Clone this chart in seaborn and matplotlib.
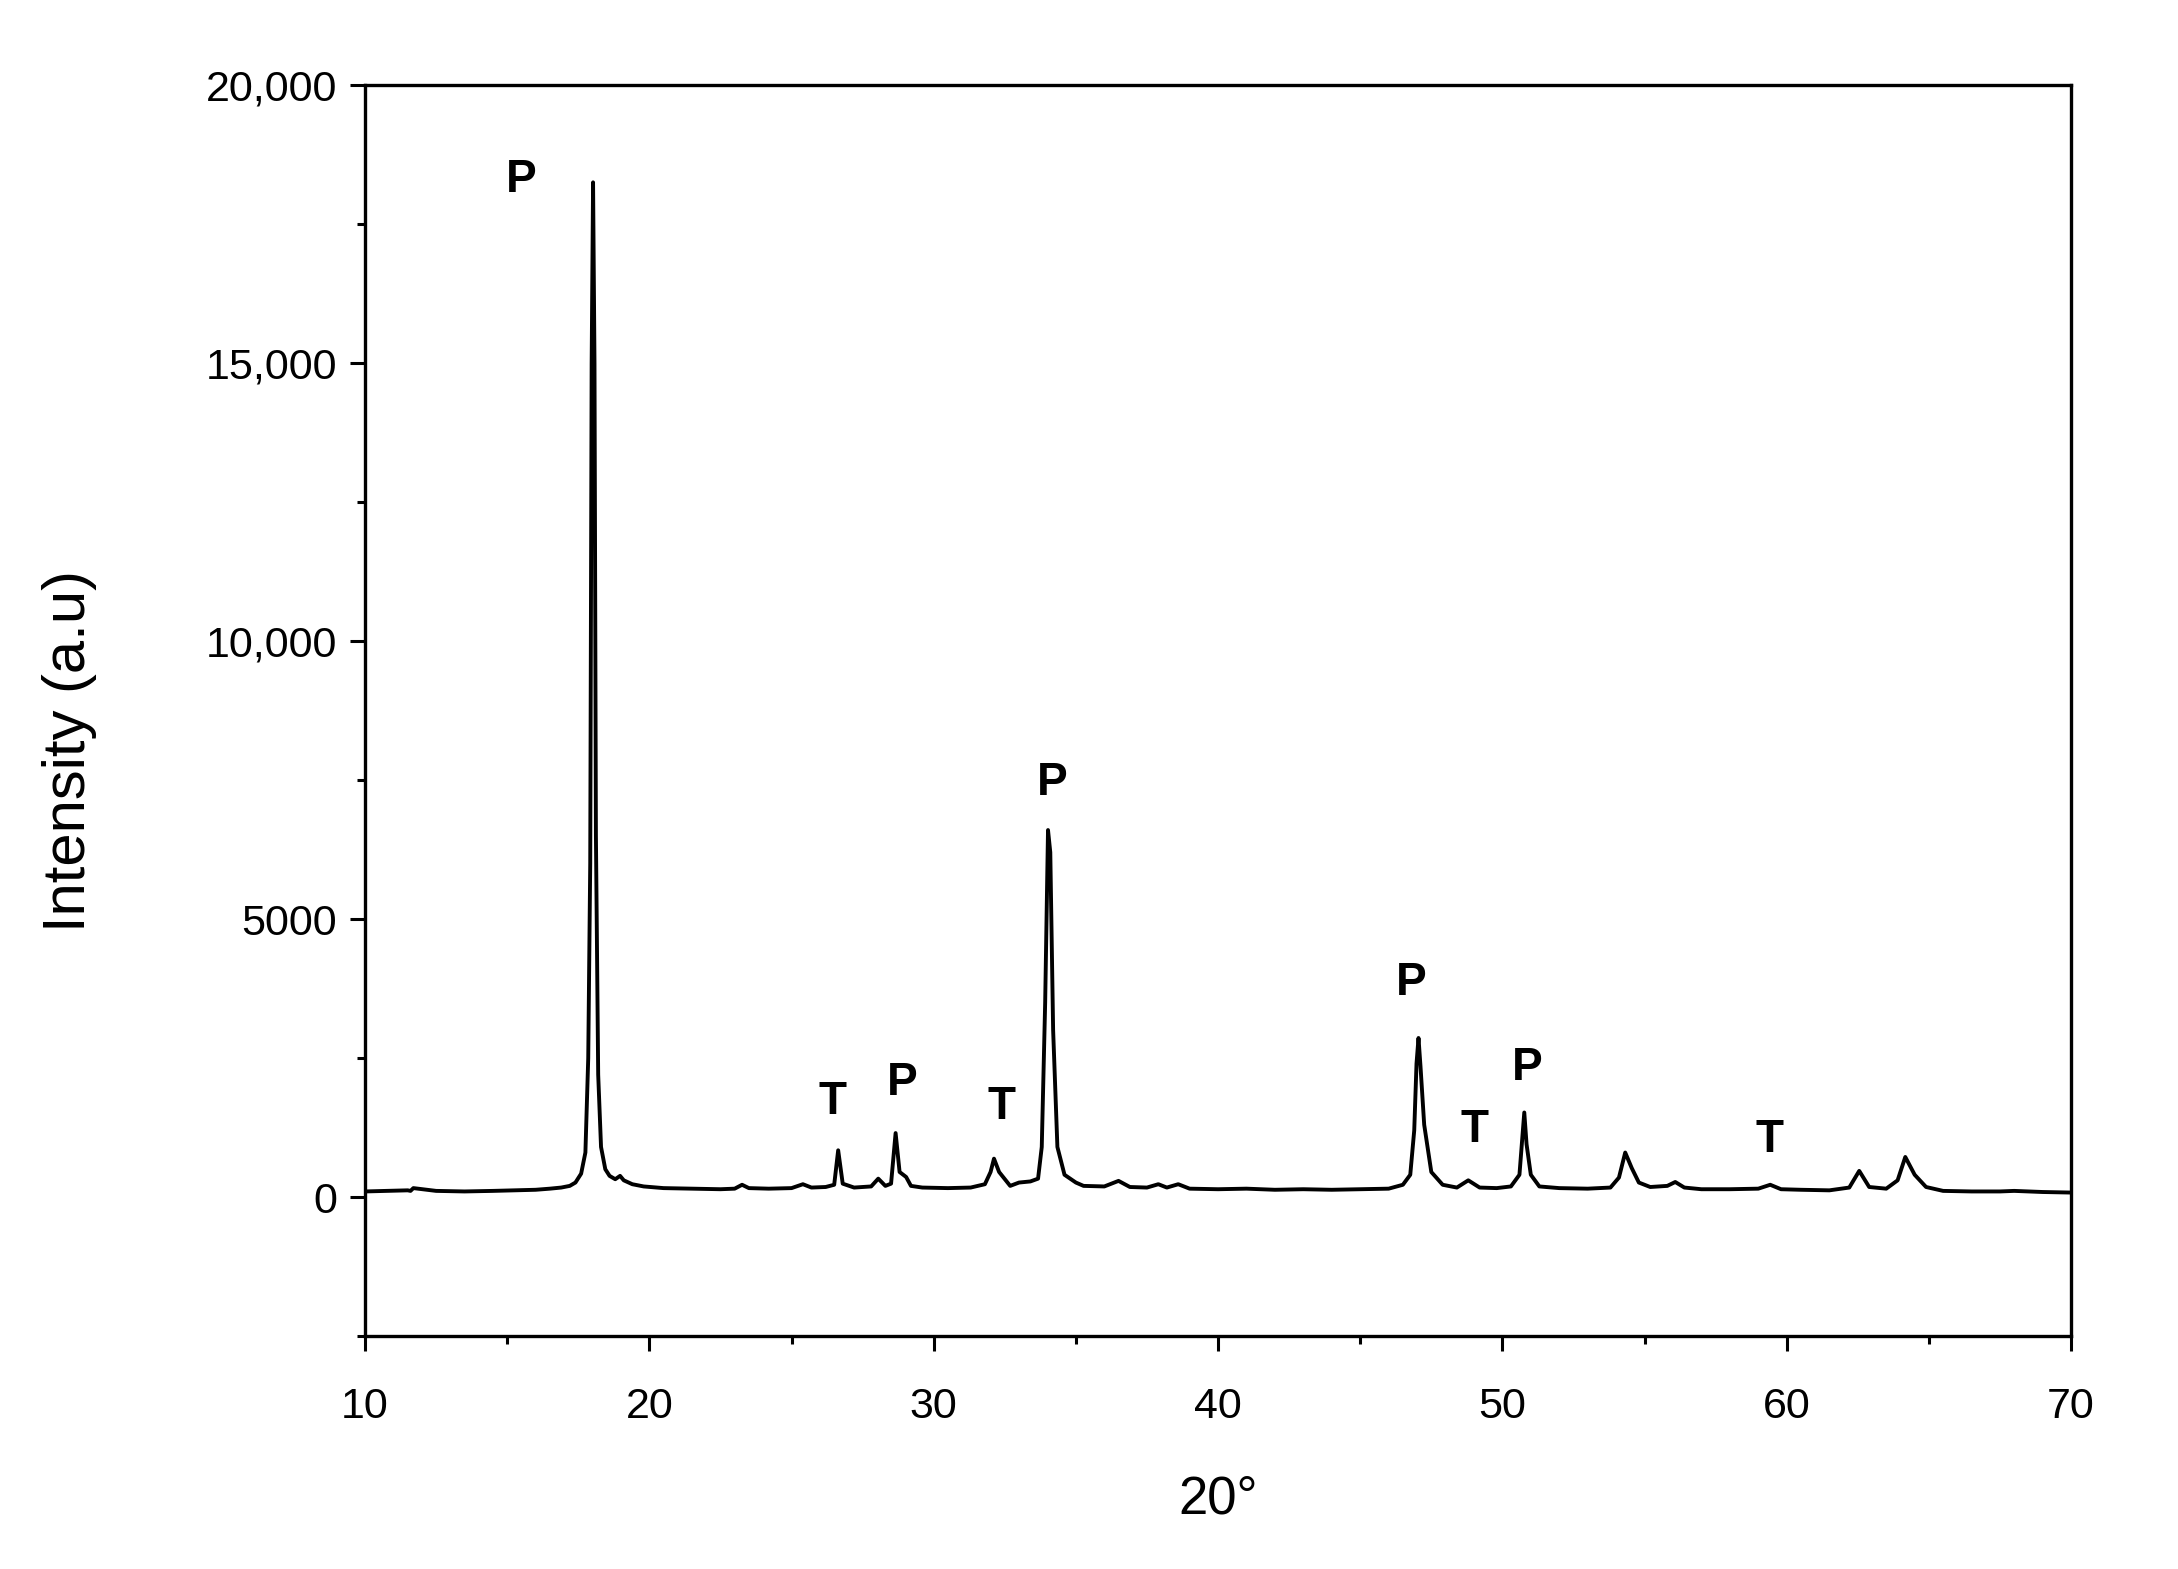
import seaborn as sns
import pandas as pd
import matplotlib.pyplot as plt
from matplotlib.ticker import MultipleLocator, FixedLocator

# XRD pattern (2theta in degrees, intensity in a.u.)
two_theta = [
    10.0, 10.8, 11.5, 11.6, 11.7, 12.5, 13.5, 14.5, 15.3, 16.0,
    16.5, 16.9, 17.2, 17.4, 17.6, 17.75, 17.85, 17.92, 17.97, 18.02,
    18.07, 18.12, 18.2, 18.3, 18.45, 18.6, 18.8, 18.97, 19.1, 19.4,
    19.8, 20.5, 21.5, 22.5, 23.0, 23.26, 23.5, 24.2, 25.0, 25.4,
    25.7, 26.2, 26.5, 26.64, 26.8, 27.2, 27.8, 28.05, 28.3, 28.5,
    28.66, 28.8, 29.03, 29.2, 29.6, 30.5, 31.3, 31.8, 32.0, 32.12,
    32.3, 32.69, 33.0, 33.4, 33.67, 33.8, 33.92, 34.02, 34.1, 34.2,
    34.35, 34.6, 35.0, 35.27, 36.0, 36.5, 36.9, 37.5, 37.9, 38.2,
    38.6, 39.0, 40.0, 41.0, 42.0, 43.0, 44.0, 45.0, 46.0, 46.5,
    46.76, 46.9, 46.98, 47.05, 47.12, 47.25, 47.5, 47.9, 48.4, 48.8,
    49.2, 49.8, 50.3, 50.6, 50.72, 50.77, 50.85, 51.0, 51.3, 52.0,
    53.0, 53.8, 54.1, 54.32, 54.55, 54.8, 55.2, 55.8, 56.08, 56.4,
    57.0, 58.0, 59.0, 59.42, 59.8, 60.5, 61.5, 62.2, 62.55, 62.9,
    63.5, 63.9, 64.17, 64.5, 64.9, 65.5, 66.5, 67.5, 68.0, 69.0,
    70.0,
]
intensity = [
    100, 110, 120, 110, 160, 110, 100, 110, 120, 130,
    150, 170, 200, 260, 420, 800, 2500, 6000, 15000, 18250,
    15000, 6500, 2200, 900, 500, 380, 320, 380, 300, 230,
    190, 160, 150, 140, 150, 220, 160, 150, 160, 230,
    170, 180, 220, 840, 240, 170, 190, 330, 200, 240,
    1150, 450, 360, 200, 170, 160, 170, 230, 450, 690,
    450, 200, 260, 280, 330, 900, 3500, 6600, 6200, 3000,
    900, 400, 260, 200, 190, 290, 180, 170, 230, 170,
    230, 150, 140, 150, 130, 140, 130, 140, 150, 220,
    400, 1200, 2400, 2860, 2350, 1300, 450, 220, 170, 300,
    170, 160, 190, 400, 1200, 1520, 950, 400, 190, 160,
    150, 170, 350, 800, 520, 260, 180, 200, 270, 170,
    140, 140, 150, 220, 140, 130, 120, 170, 470, 180,
    150, 300, 720, 400, 180, 110, 100, 100, 110, 90,
    80,
]

# phase labels (P / T) and where they sit
label_text = ["P", "T", "P", "T", "P", "P", "T", "P", "T"]
label_x = [15.5, 26.45, 28.9, 32.37, 34.18, 46.79, 49.03, 50.89, 59.39]
label_y = [18300, 1700, 2050, 1625, 7450, 3850, 1200, 2325, 1025]

y_ticks = [0, 5000, 10000, 15000, 20000]
y_tick_labels = ["0", "5000", "10,000", "15,000", "20,000"]


def plotData():
    sns.set_style("ticks")
    plt.rcParams["font.family"] = ["Liberation Sans", "DejaVu Sans"]
    plt.rcParams["text.color"] = "black"
    plt.rcParams["axes.labelcolor"] = "black"

    df = pd.DataFrame({"two_theta": two_theta, "intensity": intensity})

    fig = plt.figure(figsize=(21.78, 15.69), dpi=100)
    ax = fig.add_axes([0.1676, 0.1485, 0.7833, 0.7973])

    sns.lineplot(data=df, x="two_theta", y="intensity", ax=ax,
                 color="black", linewidth=2.8, estimator=None, sort=False)

    for t, x, y in zip(label_text, label_x, label_y):
        ax.text(x, y, t, ha="center", va="center", fontsize=33,
                fontweight="bold", color="black")

    ax.set_xlim(10, 70)
    ax.set_ylim(-2500, 20000)
    ax.xaxis.set_major_locator(MultipleLocator(10))
    ax.xaxis.set_minor_locator(MultipleLocator(5))
    ax.yaxis.set_major_locator(FixedLocator(y_ticks))
    ax.set_yticklabels(y_tick_labels)
    ax.yaxis.set_minor_locator(MultipleLocator(2500))

    for side in ["top", "right", "left", "bottom"]:
        ax.spines[side].set_visible(True)
        ax.spines[side].set_linewidth(2.4)
        ax.spines[side].set_color("black")

    ax.tick_params(axis="both", which="major", direction="out", length=11, width=2.2,
                   labelsize=31, colors="black", top=False, right=False)
    ax.tick_params(axis="both", which="minor", direction="out", length=6, width=2.2,
                   colors="black", top=False, right=False)
    ax.tick_params(axis="x", which="major", pad=26)
    ax.tick_params(axis="y", which="major", pad=9)

    ax.set_xlabel("20°", fontsize=38, va="center", color="black")
    ax.set_ylabel("Intensity (a.u)", fontsize=43, va="center", ha="center", color="black")
    ax.xaxis.set_label_coords(0.5, -0.131)
    ax.yaxis.set_label_coords(-0.1735, 0.468)

    fig.savefig("out.png", dpi=100, facecolor="white")


def main():
    plotData()


if __name__ == "__main__":
    main()
